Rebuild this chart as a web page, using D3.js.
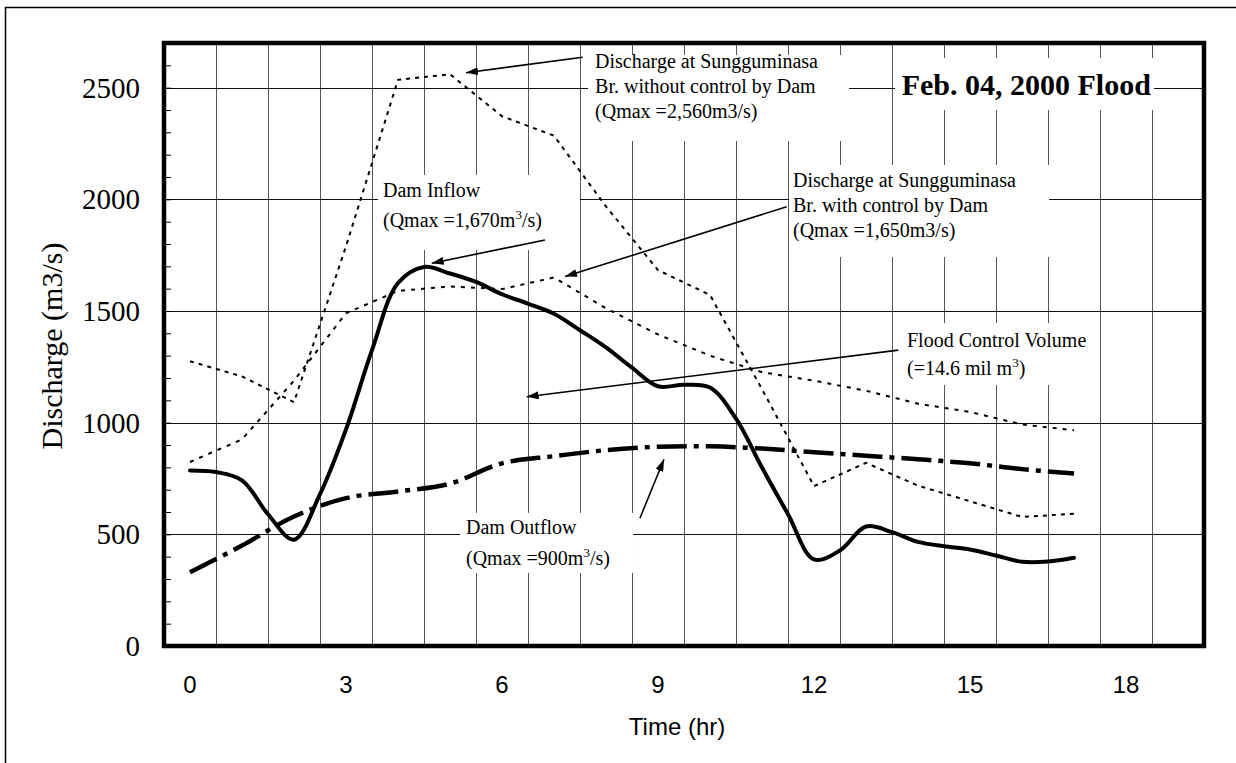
<!DOCTYPE html>
<html><head><meta charset="utf-8">
<script src="https://cdn.jsdelivr.net/npm/d3@7"></script>
<style>body{margin:0;background:#fff}svg{display:block}</style>
</head><body>
<svg id="chart" width="1236" height="763"></svg>
<script>
// ---------- data ----------
const hours = d3.range(0, 18); // 0..17 hr
const withoutControl = [1275,1207,1092,1790,2535,2560,2372,2285,1968,1683,1572,1150,716,820,718,648,578,592];
const withControl    = [824,925,1188,1490,1590,1610,1598,1650,1512,1395,1300,1226,1188,1143,1085,1048,992,966];
const damOutflow     = [330,450,580,662,692,727,818,850,877,892,894,884,868,852,836,818,792,772];
const inflowHours = d3.range(0, 17.01, 0.5);
const damInflow = [786,779,742,590,476,680,970,1325,1625,1697,1668,1630,1575,1533,1488,1414,1337,1246,1163,1170,1157,1018,799,590,388,428,535,510,466,447,432,405,377,378,395];
const yTickValues = [0,500,1000,1500,2000,2500];
const xTickLabels = [0,3,6,9,12,15,18];
const chartTitle = "Feb. 04, 2000 Flood";
const xTitle = "Time (hr)";
const yTitle = "Discharge (m3/s)";

// annotations (anchor points in data units: hours, m3/s)
const annotations = [
  {lines:["Discharge at Sungguminasa","Br. without control by Dam","(Qmax =2,560m3/s)"], tx:7.79, tv:2588, lh:25,
   box:[7.654,12.673,2646,2261], from:[7.552,2636], to:[5.308,2567]},
  {lines:["Dam Inflow","(Qmax =1,670m^3/s)"], tx:3.712, tv:2010, lh:30,
   box:[3.615,7.5,2109,1773], from:[6.827,1818], to:[4.648,1714]},
  {lines:["Discharge at Sungguminasa","Br. with control by Dam","(Qmax =1,650m3/s)"], tx:11.596, tv:2055, lh:25,
   box:[11.52,16.52,2154,1742], from:[11.475,1967], to:[7.212,1654]},
  {lines:["Flood Control Volume","(=14.6 mil m^3)"], tx:13.788, tv:1339, lh:28,
   box:[13.712,17.404,1446,1169], from:[13.621,1325], to:[6.475,1116]},
  {lines:["Dam Outflow","(Qmax =900m^3/s)"], tx:5.308, tv:501, lh:31,
   box:[5.192,8.519,596,327], from:[8.654,573], to:[9.115,836]}
];
const titleBox = {tx:13.686, tv:2467, box:[13.558,18.538,2633,2400]};

// ---------- chart ----------
const svg = d3.select("#chart");
const serif = "'Liberation Serif','Times New Roman',serif";
const sans = "'Liberation Sans',Arial,sans-serif";

const x = d3.scaleLinear().domain([-0.5, 19.5]).range([164, 1204]);
const y = d3.scaleLinear().domain([0, 2700]).range([646, 43]);

// outer frame (extends past the picture)
svg.append("rect").attr("x",5.5).attr("y",7.5).attr("width",1300).attr("height",800)
  .attr("fill","none").attr("stroke","#000").attr("stroke-width",1.5);

// grid
const grid = svg.append("g").attr("shape-rendering","crispEdges");
grid.selectAll("line.v").data(d3.range(0.5, 19, 1)).join("line")
  .attr("x1",d=>x(d)+0.5).attr("x2",d=>x(d)+0.5).attr("y1",y(2700)).attr("y2",y(0))
  .attr("stroke","#555").attr("stroke-width",1);
grid.selectAll("line.h").data(yTickValues.filter(v=>v>0)).join("line")
  .attr("x1",x(-0.5)).attr("x2",x(19.5)).attr("y1",d=>Math.round(y(d))+0.5).attr("y2",d=>Math.round(y(d))+0.5)
  .attr("stroke","#111").attr("stroke-width",1);

// y axis minor ticks via d3 axis
const yAxis = d3.axisRight(y).tickValues(d3.range(0, 2701, 100)).tickSize(7).tickFormat("");
const gy = svg.append("g").attr("transform",`translate(${x(-0.5)},0)`).call(yAxis);
gy.select(".domain").remove();
gy.selectAll(".tick line").attr("stroke","#000").attr("stroke-width",1);

// white label boxes (hide gridlines behind text)
const boxes = annotations.map(a=>a.box).concat([titleBox.box]);
svg.append("g").selectAll("rect").data(boxes).join("rect")
  .attr("x",d=>x(d[0])).attr("y",d=>y(d[2]))
  .attr("width",d=>x(d[1])-x(d[0])).attr("height",d=>y(d[3])-y(d[2]))
  .attr("fill","#fff");

// series
const plot = svg.append("g");
const lineLin = d3.line().x(d=>x(d[0])).y(d=>y(d[1]));
const lineSmooth = d3.line().x(d=>x(d[0])).y(d=>y(d[1])).curve(d3.curveCatmullRom.alpha(0.5));

plot.append("path").datum(hours.map((h,i)=>[h,withoutControl[i]]))
  .attr("d",lineLin).attr("fill","none").attr("stroke","#000").attr("stroke-width",2)
  .attr("stroke-dasharray","4,5");
plot.append("path").datum(hours.map((h,i)=>[h,withControl[i]]))
  .attr("d",lineLin).attr("fill","none").attr("stroke","#000").attr("stroke-width",2)
  .attr("stroke-dasharray","4,6");
plot.append("path").datum(hours.map((h,i)=>[h,damOutflow[i]]))
  .attr("d",lineSmooth).attr("fill","none").attr("stroke","#000").attr("stroke-width",4.5)
  .attr("stroke-dasharray","30,7,5,7");
plot.append("path").datum(inflowHours.map((h,i)=>[h,damInflow[i]]))
  .attr("d",lineSmooth).attr("fill","none").attr("stroke","#000").attr("stroke-width",4)
  .attr("stroke-linecap","round");

// plot border
svg.append("rect").attr("x",x(-0.5)).attr("y",y(2700)).attr("width",x(19.5)-x(-0.5)).attr("height",y(0)-y(2700))
  .attr("fill","none").attr("stroke","#000").attr("stroke-width",4.5);

// arrows
svg.append("defs").append("marker").attr("id","ah").attr("viewBox","0 0 12 8")
  .attr("refX",12).attr("refY",4).attr("markerWidth",12).attr("markerHeight",8)
  .attr("markerUnits","userSpaceOnUse").attr("orient","auto")
  .append("path").attr("d","M0,0 L12,4 L0,8 Z").attr("fill","#000");
svg.append("g").selectAll("line").data(annotations).join("line")
  .attr("x1",d=>x(d.from[0])).attr("y1",d=>y(d.from[1]))
  .attr("x2",d=>x(d.to[0])).attr("y2",d=>y(d.to[1]))
  .attr("stroke","#000").attr("stroke-width",1.6).attr("marker-end","url(#ah)");

// annotation text
function addLine(textSel, str){
  const parts = str.split(/\^(.)/);
  parts.forEach((p,i)=>{
    if(i%2===1){
      textSel.append("tspan").attr("dy",-8).attr("font-size",13).text(p);
    } else if(p.length){
      const t = textSel.append("tspan").text(p);
      if(i>0) t.attr("dy",8);
    }
  });
}
annotations.forEach(a=>{
  a.lines.forEach((ln,i)=>{
    const t = svg.append("text").attr("x",x(a.tx)).attr("y",y(a.tv)+i*a.lh)
      .attr("font-family",serif).attr("font-size",20).attr("fill","#000");
    addLine(t, ln);
  });
});

// title
svg.append("text").attr("x",x(titleBox.tx)).attr("y",y(titleBox.tv))
  .attr("font-family",serif).attr("font-size",30).attr("font-weight","bold").text(chartTitle);

// y tick labels
svg.append("g").selectAll("text").data(yTickValues).join("text")
  .attr("x",140).attr("y",d=>y(d)).attr("dy","0.35em").attr("text-anchor","end")
  .attr("font-family",serif).attr("font-size",29).text(d=>d);

// x tick labels
svg.append("g").selectAll("text").data(xTickLabels).join("text")
  .attr("x",d=>x(d)).attr("y",693).attr("text-anchor","middle")
  .attr("font-family",sans).attr("font-size",24).text(d=>d);

// axis titles
svg.append("text").attr("x",677).attr("y",735).attr("text-anchor","middle")
  .attr("font-family",sans).attr("font-size",24).text(xTitle);
svg.append("text").attr("transform","translate(62,346) rotate(-90)").attr("text-anchor","middle")
  .attr("font-family",serif).attr("font-size",30).text(yTitle);
</script>
</body></html>
